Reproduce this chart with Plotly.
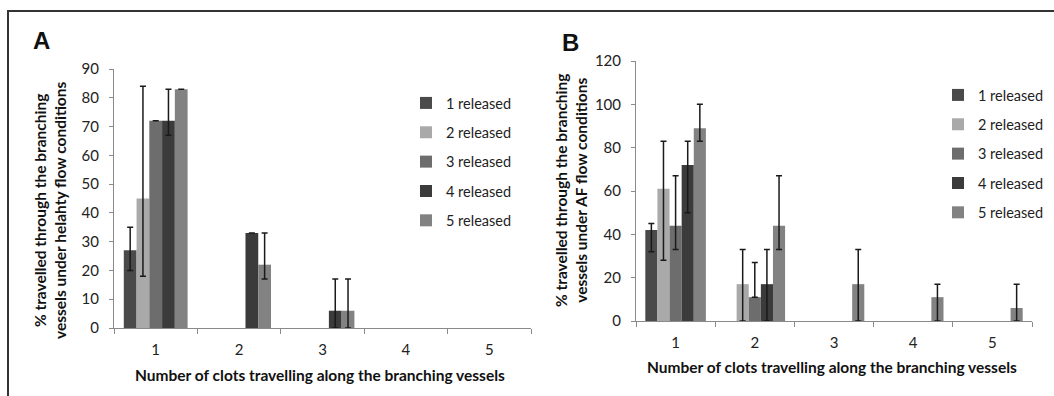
import plotly.graph_objects as go

categories = ["1", "2", "3", "4", "5"]
series_names = ["1 released", "2 released", "3 released", "4 released", "5 released"]
colors = ["#4a4a4a", "#a9a9a9", "#6d6d6d", "#3b3b3b", "#828282"]

# Panel A: healthy flow conditions (value, upper bound, lower bound of error bar)
a_vals = [
    [27, 0, 0, 0, 0],
    [45, 0, 0, 0, 0],
    [72, 0, 0, 0, 0],
    [72, 33, 6, 0, 0],
    [83, 22, 6, 0, 0],
]
a_hi = [
    [35, 0, 0, 0, 0],
    [84, 0, 0, 0, 0],
    [72, 0, 0, 0, 0],
    [83, 33, 17, 0, 0],
    [83, 33, 17, 0, 0],
]
a_lo = [
    [20, 0, 0, 0, 0],
    [18, 0, 0, 0, 0],
    [72, 0, 0, 0, 0],
    [67, 33, 0, 0, 0],
    [83, 17, 0, 0, 0],
]

# Panel B: AF flow conditions
b_vals = [
    [42, 0, 0, 0, 0],
    [61, 17, 0, 0, 0],
    [44, 11, 0, 0, 0],
    [72, 17, 0, 0, 0],
    [89, 44, 17, 11, 6],
]
b_hi = [
    [45, 0, 0, 0, 0],
    [83, 33, 0, 0, 0],
    [67, 27, 0, 0, 0],
    [83, 33, 0, 0, 0],
    [100, 67, 33, 17, 17],
]
b_lo = [
    [32, 0, 0, 0, 0],
    [28, 0, 0, 0, 0],
    [33, 11, 0, 0, 0],
    [50, 0, 0, 0, 0],
    [83, 33, 0, 0, 0],
]

x_title = "Number of clots travelling along the branching vessels"
a_ytitle = "% travelled through the branching<br>vessels under helahty flow conditions"
b_ytitle = "% travelled through the branching<br>vessels under AF flow conditions"

FONT = "Lato"
W, H = 1054, 396

fig = go.Figure()


def add_panel(vals, hi, lo, xa, ya, legend, grp):
    for i, name in enumerate(series_names):
        y = [v if v else None for v in vals[i]]
        plus = [h - v for h, v in zip(hi[i], vals[i])]
        minus = [v - l for v, l in zip(vals[i], lo[i])]
        fig.add_trace(go.Bar(
            x=categories, y=y, name=name,
            marker=dict(color=colors[i], line=dict(width=0)),
            error_y=dict(type="data", symmetric=False, array=plus, arrayminus=minus,
                         color="#1a1a1a", thickness=1.5, width=3),
            xaxis=xa, yaxis=ya, legend=legend, legendgroup=grp + str(i),
        ))


add_panel(a_vals, a_hi, a_lo, "x", "y", "legend", "a")
add_panel(b_vals, b_hi, b_lo, "x2", "y2", "legend2", "b")

axis_common = dict(showline=True, linecolor="#8a8a8a", linewidth=1, ticks="outside",
                   tickcolor="#8a8a8a", tickwidth=1, showgrid=False, zeroline=False,
                   automargin=False,
                   tickfont=dict(family=FONT, size=15, color="#222"))
x_common = dict(type="category", tickson="boundaries", range=[-0.5, 4.5],
                ticklen=5, ticklabelstandoff=8, **axis_common)
y_common = dict(ticklen=4, ticklabelstandoff=7, **axis_common)


def px_x(p):
    return p / W


def px_y(p):
    return (H - p) / H


fig.update_layout(
    width=W, height=H, autosize=False,
    margin=dict(l=0, r=0, t=0, b=0, pad=0, autoexpand=False),
    paper_bgcolor="white", plot_bgcolor="white",
    barmode="group", bargap=0.235, bargroupgap=0,
    font=dict(family=FONT, size=14, color="#222"),
    xaxis=dict(domain=[px_x(114), px_x(531)], anchor="y", **x_common),
    yaxis=dict(domain=[px_y(328), px_y(69)], anchor="x", range=[0, 90], dtick=10, **y_common),
    xaxis2=dict(domain=[px_x(636), px_x(1032)], anchor="y2", **x_common),
    yaxis2=dict(domain=[px_y(321), px_y(61)], anchor="x2", range=[0, 120], dtick=20, **y_common),
    legend=dict(x=px_x(406), y=px_y(87), xanchor="left", yanchor="top",
                font=dict(family=FONT, size=14.5, color="#222"), tracegroupgap=7.5,
                bgcolor="rgba(0,0,0,0)"),
    legend2=dict(x=px_x(938), y=px_y(79), xanchor="left", yanchor="top",
                 font=dict(family=FONT, size=14.5, color="#222"), tracegroupgap=7.5,
                 bgcolor="rgba(0,0,0,0)"),
    showlegend=True,
)

ann_font = dict(family=FONT, size=15.5, color="#111")
fig.add_annotation(text="<b>" + x_title + "</b>", x=px_x(320), y=px_y(375), xref="paper", yref="paper",
                   showarrow=False, font=ann_font, xanchor="center", yanchor="middle")
fig.add_annotation(text="<b>" + x_title + "</b>", x=px_x(832), y=px_y(367), xref="paper", yref="paper",
                   showarrow=False, font=ann_font, xanchor="center", yanchor="middle")
fig.add_annotation(text="<b>" + a_ytitle + "</b>", x=px_x(50), y=px_y(211), xref="paper", yref="paper",
                   showarrow=False, font=ann_font, textangle=-90, xanchor="center", yanchor="middle")
fig.add_annotation(text="<b>" + b_ytitle + "</b>", x=px_x(571), y=px_y(191), xref="paper", yref="paper",
                   showarrow=False, font=ann_font, textangle=-90, xanchor="center", yanchor="middle")
fig.add_annotation(text="<b>A</b>", x=px_x(41), y=px_y(41), xref="paper", yref="paper",
                   showarrow=False, font=dict(family="Liberation Sans", size=24, color="#111"),
                   xanchor="center", yanchor="middle")
fig.add_annotation(text="<b>B</b>", x=px_x(570), y=px_y(42), xref="paper", yref="paper",
                   showarrow=False, font=dict(family="Liberation Sans", size=24, color="#111"),
                   xanchor="center", yanchor="middle")

# outer frame (left and top edges)
fig.add_shape(type="line", xref="paper", yref="paper", x0=px_x(8), x1=px_x(8), y0=px_y(11), y1=px_y(400),
              line=dict(color="#333", width=2), layer="above")
fig.add_shape(type="line", xref="paper", yref="paper", x0=px_x(7), x1=px_x(1060), y0=px_y(11), y1=px_y(11),
              line=dict(color="#333", width=2), layer="above")

fig.write_html("out.html", config={"displayModeBar": False},
               post_script="document.body.style.margin='0';")
